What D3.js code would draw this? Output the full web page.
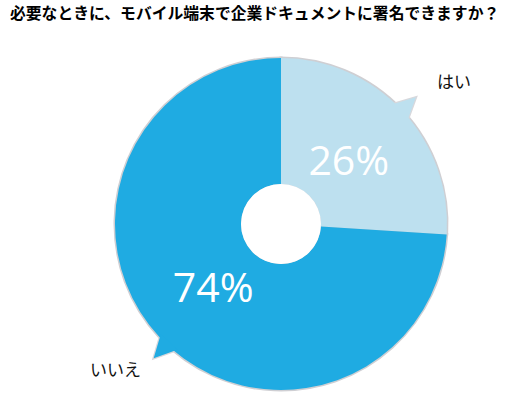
<!DOCTYPE html>
<html>
<head>
<meta charset="utf-8">
<script src="https://cdn.jsdelivr.net/npm/d3@7"></script>
<style>
  body { margin: 0; background: #fff; }
  svg { display: block; }
</style>
</head>
<body>
<svg></svg>
<script>
let title = '必要なときに、モバイル端末で企業ドキュメントに署名できますか？'
let categories = ['はい', 'いいえ']
let values = [26, 74]
let colors = ['#bde0ef', '#1fabe2']

let width = 517
let height = 396
let cx = 281
let cy = 224
let outerR = 166
let innerR = 40

let svg = d3.select('svg')
    .attr('width', width)
    .attr('height', height)

svg.append('text')
    .attr('x', 10)
    .attr('y', 19)
    .attr('font-family', '"Noto Sans CJK JP", sans-serif')
    .attr('font-weight', 'bold')
    .attr('font-size', 15.8)
    .attr('fill', '#000')
    .text(title)

let pie = d3.pie().sort(null).value(d => d.value)
let data = pie(categories.map((c, i) => ({ name: c, value: values[i] })))

let fullArc = d3.arc().innerRadius(0).outerRadius(outerR)
let donutArc = d3.arc().innerRadius(innerR).outerRadius(outerR)
let labelArc = d3.arc().innerRadius(93).outerRadius(93)

// callout direction tweak per slice (degrees)
let calloutShift = [0, -3.3]

let callout = (d, i) => {
    let mid = (d.startAngle + d.endAngle) / 2 + calloutShift[i] * Math.PI / 180
    let half = 4 * Math.PI / 180
    let pt = (a, r) => [r * Math.sin(a), -r * Math.cos(a)]
    let p = [pt(mid - half, outerR - 3), pt(mid, outerR + 19), pt(mid + half, outerR - 3)]
    return 'M' + p.map(q => q.join(',')).join('L') + 'Z'
}

let g = svg.append('g').attr('transform', 'translate(' + cx + ',' + cy + ')')

// grey rim underneath
let rim = g.append('g')
rim.selectAll('.rim')
    .data(data)
    .enter()
    .append('path')
    .attr('d', d => fullArc(d))
    .attr('fill', '#cfcfd3')
    .attr('stroke', '#cfcfd3')
    .attr('stroke-width', 3)
rim.selectAll('.rimc')
    .data(data)
    .enter()
    .append('path')
    .attr('d', (d, i) => callout(d, i))
    .attr('fill', '#cfcfd3')
    .attr('stroke', '#d8d8dc')
    .attr('stroke-width', 2.5)
    .attr('stroke-linejoin', 'miter')

g.selectAll('.slice')
    .data(data)
    .enter()
    .append('path')
    .attr('d', d => donutArc(d))
    .attr('fill', (d, i) => colors[i])

g.append('circle')
    .attr('r', innerR)
    .attr('fill', '#fff')

g.selectAll('.tip')
    .data(data)
    .enter()
    .append('path')
    .attr('d', (d, i) => callout(d, i))
    .attr('fill', (d, i) => colors[i])

g.selectAll('.pct')
    .data(data)
    .enter()
    .append('text')
    .attr('x', d => labelArc.centroid(d)[0])
    .attr('y', d => labelArc.centroid(d)[1])
    .attr('dy', '0.36em')
    .attr('text-anchor', 'middle')
    .attr('font-family', '"Open Sans", sans-serif')
    .attr('font-size', 41)
    .attr('fill', '#fff')
    .text(d => d.value + '%')

let labelPos = [[437, 88], [90, 376]]
svg.selectAll('.lab')
    .data(categories)
    .enter()
    .append('text')
    .attr('x', (d, i) => labelPos[i][0])
    .attr('y', (d, i) => labelPos[i][1])
    .attr('font-family', '"Noto Sans CJK JP", sans-serif')
    .attr('font-size', 17)
    .attr('fill', '#111')
    .text(d => d)
</script>
</body>
</html>
